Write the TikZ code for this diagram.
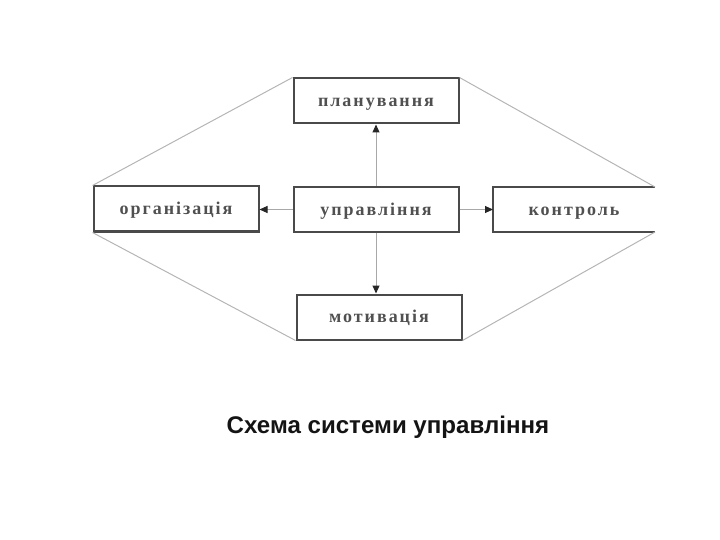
\documentclass[tikz,border=0pt]{standalone}
\usepackage{fontspec}
\setmainfont{Liberation Serif}
\newfontfamily\capfont{Liberation Sans}
\usetikzlibrary{arrows.meta}
\definecolor{boxline}{HTML}{4A4A4A}
\definecolor{boxtext}{HTML}{505050}
\definecolor{conn}{HTML}{A8A8A8}
\definecolor{diam}{HTML}{B5B5B5}
\tikzset{
  lbl/.style={text=boxtext, font=\fontsize{18}{20}\selectfont\bfseries, text height=11pt, text depth=0pt},
  blk/.style={lbl, draw=boxline, line width=2pt, minimum width=165pt, minimum height=45pt, inner sep=0pt},
  conline/.style={draw=conn, line width=1pt, -{Triangle[length=8pt,width=7pt,color=black!85]}},
  diamline/.style={draw=diam, line width=1pt}
}
\begin{document}
\begin{tikzpicture}[x=1pt,y=-1pt]
\useasboundingbox (0,0) rectangle (720,540);
\node[blk] (plan) at (376,101) {\addfontfeatures{LetterSpace=11}планування};
\node[blk] (upr) at (376,209.5) {\addfontfeatures{LetterSpace=11}управління};
\node[blk] (org) at (176,209) {\addfontfeatures{LetterSpace=11}організація};
\node[blk] (mot) at (379,317) {\addfontfeatures{LetterSpace=11}мотивація};
% контроль box, cut at the right edge
\coordinate (kTL) at (493,187);
\coordinate (kTR) at (655,187);
\coordinate (kBL) at (493,232);
\coordinate (kBR) at (655,232);
\draw[boxline, line width=2pt] (kTR) -- (kTL) -- (kBL) -- (kBR);
\node[lbl] (kon) at (574,209.5) {\addfontfeatures{LetterSpace=11}контроль};
\coordinate (konL) at (493,209.5);
% connectors
\draw[conline] (upr.north) -- (upr.north |- plan.south);
\draw[conline] (upr.south) -- (upr.south |- mot.north);
\draw[conline] (upr.west) -- (org.east |- upr.west);
\draw[conline] (upr.east) -- (konL);
% diamond lines
\draw[diamline] (plan.north west) -- (org.north west);
\draw[diamline] (org.south west) -- (mot.south west);
\draw[diamline] (plan.north east) -- (kTR);
\draw[diamline] (kBR) -- (mot.south east);
% caption
\node[font=\capfont\bfseries\fontsize{24.1}{27}\selectfont, text=black!92] (cap) at (388,427) {Схема системи управління};
\end{tikzpicture}
\end{document}
